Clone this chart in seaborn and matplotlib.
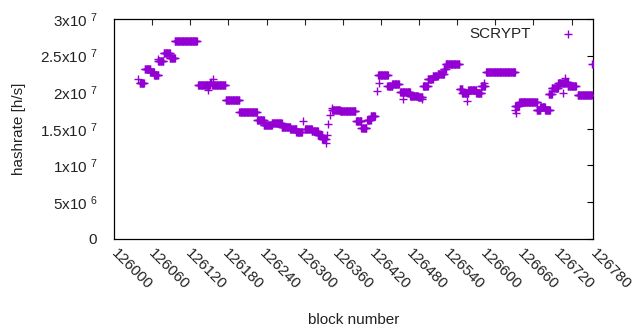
import numpy as np
import pandas as pd
import matplotlib
matplotlib.use("Agg")
import matplotlib.pyplot as plt
import seaborn as sns

# ---- data: runs of constant hashrate (first block, last block, hashrate) ----
run_first = [126042, 126050, 126059, 126065, 126072, 126081, 126091, 126099,
             126137, 126160, 126182, 126204, 126233, 126244, 126257, 126273,
             126287, 126297, 126311, 126322, 126332, 126339, 126355, 126368,
             126394, 126403, 126412, 126418, 126430, 126445, 126453, 126466,
             126482, 126495, 126503, 126511, 126519, 126527, 126537, 126540,
             126563, 126567, 126577, 126590, 126598, 126606, 126653, 126660,
             126667, 126688, 126694, 126702, 126708, 126713, 126723, 126734,
             126739, 126755, 126779]
run_last = [126049, 126059, 126065, 126072, 126080, 126091, 126099, 126135,
            126156, 126181, 126204, 126233, 126244, 126257, 126273, 126287,
            126297, 126306, 126322, 126332, 126339, 126345, 126368, 126393,
            126403, 126411, 126418, 126425, 126446, 126453, 126464, 126482,
            126495, 126502, 126511, 126519, 126527, 126537, 126540, 126562,
            126567, 126577, 126590, 126598, 126604, 126653, 126659, 126667,
            126689, 126694, 126702, 126710, 126713, 126723, 126734, 126739,
            126752, 126778, 126780]
run_rate = [2.13e7, 2.32e7, 2.28e7, 2.24e7, 2.42e7, 2.53e7, 2.47e7, 2.70e7,
            2.10e7, 2.10e7, 1.89e7, 1.73e7, 1.62e7, 1.55e7, 1.58e7, 1.52e7,
            1.49e7, 1.45e7, 1.50e7, 1.47e7, 1.42e7, 1.36e7, 1.76e7, 1.74e7,
            1.60e7, 1.51e7, 1.62e7, 1.68e7, 2.23e7, 2.08e7, 2.11e7, 2.00e7,
            1.95e7, 1.93e7, 2.09e7, 2.18e7, 2.22e7, 2.25e7, 2.31e7, 2.38e7,
            2.05e7, 1.99e7, 2.03e7, 1.99e7, 2.09e7, 2.28e7, 1.81e7, 1.86e7,
            1.87e7, 1.76e7, 1.80e7, 1.75e7, 1.98e7, 2.06e7, 2.12e7, 2.14e7,
            2.09e7, 1.96e7, 2.38e7]

# ---- isolated blocks ----
single_block = [126039, 126072, 126153, 126157, 126158, 126161, 126308, 126345,
                126347, 126348, 126352, 126355, 126428, 126431, 126471, 126501,
                126575, 126602, 126653, 126654, 126731, 126735]
single_rate = [2.18e7, 2.46e7, 2.03e7, 2.12e7, 2.14e7, 2.18e7, 1.60e7, 1.31e7,
               1.42e7, 1.57e7, 1.69e7, 1.79e7, 2.01e7, 2.13e7, 1.91e7, 1.91e7,
               1.88e7, 2.13e7, 1.76e7, 1.71e7, 1.99e7, 2.19e7]

xtick_values = list(range(126000, 126781, 60))
ytick_values = [0, 5e6, 1e7, 1.5e7, 2e7, 2.5e7, 3e7]
ytick_labels = ["0", "5x10 $^{6}$", "1x10 $^{7}$", "1.5x10 $^{7}$",
                "2x10 $^{7}$", "2.5x10 $^{7}$", "3x10 $^{7}$"]

# ---- build table ----
blocks, rates = [], []
for a, b, r in zip(run_first, run_last, run_rate):
    for blk in range(a, b + 1):
        blocks.append(blk)
        rates.append(r)
blocks += single_block
rates += single_rate
df = pd.DataFrame({"block": blocks, "hashrate": rates})

sns.set_style("white")
plt.rcParams["font.family"] = ["Liberation Sans", "DejaVu Sans"]
plt.rcParams["mathtext.fontset"] = "custom"
plt.rcParams["mathtext.rm"] = "Liberation Sans"
plt.rcParams["mathtext.it"] = "Liberation Sans:italic"
plt.rcParams["mathtext.bf"] = "Liberation Sans:bold"
plt.rcParams["mathtext.default"] = "rm"

fig = plt.figure(figsize=(6.4, 3.3), dpi=100)
ax = fig.add_axes([114 / 640, 1 - 238.5 / 330, (593 - 114) / 640, (238.5 - 19) / 330])

sns.scatterplot(data=df, x="block", y="hashrate", marker="+", color="#9400D3",
                s=26, linewidth=1.0, label="SCRYPT", ax=ax, zorder=3)

ax.set_xlim(126000, 126780)
ax.set_ylim(0, 3e7)

ax.set_xticks(xtick_values)
ax.set_xticklabels([str(v) for v in xtick_values], rotation=-45,
                   ha="left", va="center", rotation_mode="anchor", fontsize=11)
ax.set_yticks(ytick_values)
ax.set_yticklabels(ytick_labels, fontsize=11)

ax.tick_params(axis="both", direction="in", length=4, width=0.8, color="black",
               right=True, top=False, labelcolor="#222222")
ax.tick_params(axis="x", pad=9)
ax.tick_params(axis="y", pad=12)

top = ax.secondary_xaxis("top")
top.set_xticks([126000 + 62.1 * k for k in range(1, 13)])
top.tick_params(direction="in", length=4, width=0.8, labeltop=False)
top.spines["top"].set_visible(False)

for sp in ax.spines.values():
    sp.set_visible(True)
    sp.set_color("black")
    sp.set_linewidth(0.9)

ax.set_xlabel("block number", fontsize=11, color="#222222", labelpad=15)
ax.set_ylabel("hashrate [h/s]", fontsize=11, color="#222222", labelpad=10)

leg = ax.legend(loc="upper right", bbox_to_anchor=(0.982, 1.005), frameon=False,
                markerfirst=False, fontsize=11, handletextpad=1.9,
                handlelength=1.0, borderaxespad=0.2, labelcolor="#222222")

fig.savefig("out.png", dpi=100)
